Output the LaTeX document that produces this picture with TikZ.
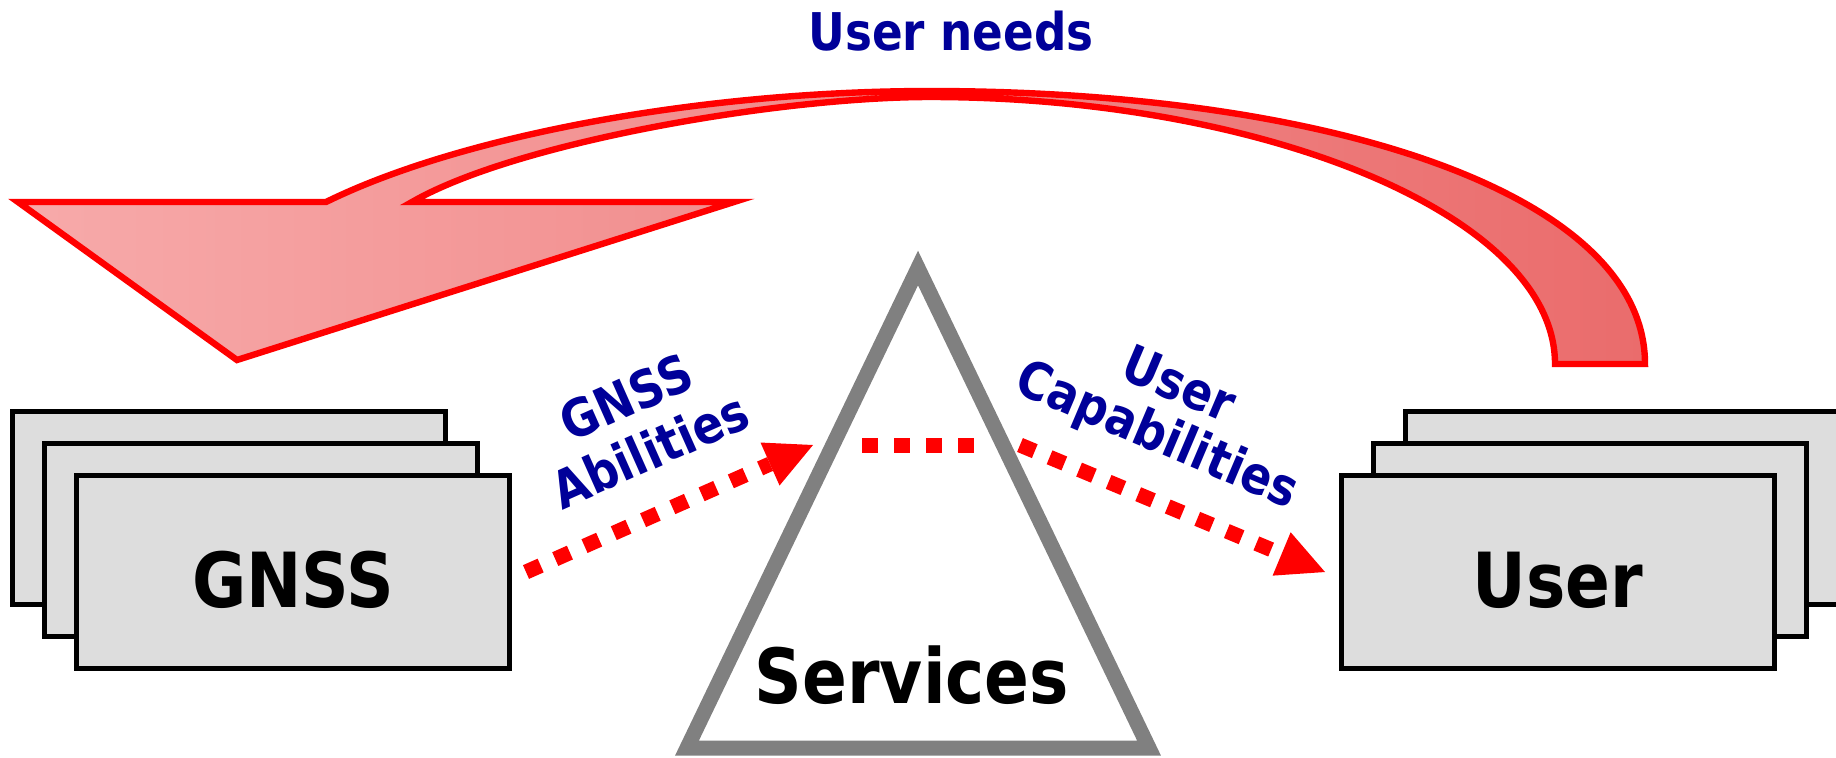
\documentclass[tikz,border=0pt]{standalone}
\usepackage{fontspec}
\newfontfamily\lblfont{DejaVu Sans}[FakeStretch=0.87]
\usetikzlibrary{arrows.meta}
\definecolor{boxgray}{RGB}{221,221,221}
\definecolor{lblblue}{RGB}{0,0,153}
\definecolor{trigray}{RGB}{128,128,128}
\definecolor{arrowlight}{RGB}{247,170,170}
\definecolor{arrowdark}{RGB}{234,108,108}

\begin{document}
\begin{tikzpicture}[x=0.5pt,y=-0.5pt,
  card/.style={draw=black, line width=2.6pt, fill=boxgray,
    minimum width=216.5pt, minimum height=96.5pt, inner sep=0pt, outer sep=0pt},
  bigtext/.style={font=\lblfont\bfseries\fontsize{38}{40}\selectfont, text=black},
  cardtext/.style={bigtext, text height=35pt, text depth=0pt},
  lbl/.style={font=\lblfont\bfseries\fontsize{26}{27}\selectfont, text=lblblue,
    align=center, inner sep=0pt},
  dots/.style={draw=red, line width=7.5pt, dash pattern=on 8pt off 8pt},
  dotarrow/.style={dots, -{Triangle[length=23.5pt,width=23.5pt,line width=0pt]}},
  bigarrow/.style={draw=red, line width=3.2pt, line join=miter,
    left color=arrowlight, right color=arrowdark}
]
\useasboundingbox (0,0) rectangle (1836,757);

% feedback arrow: user needs going back to GNSS
\path[bigarrow]
  (18,202) -- (326,202)
  .. controls (460,136) and (700,91) .. (930,91)
  .. controls (1330,91) and (1645,194) .. (1645,364)
  -- (1555,364)
  .. controls (1555,214) and (1260,97) .. (930,97)
  .. controls (780,97) and (516,142) .. (412,202)
  -- (734,202) -- (237,360) -- cycle;
\node[lbl, anchor=base] (needs) at (951,50) {User needs};

% GNSS stack
\node[card] (gnss3) at (229,508) {};
\node[card] (gnss2) at (261,540) {};
\node[card, cardtext] (gnss) at (293,572) {GNSS};

% User stack
\node[card] (user3) at (1622,508) {};
\node[card] (user2) at (1590,540) {};
\node[card, cardtext] (user) at (1558,572) {User};

% Services triangle
\coordinate (apex) at (918,268);
\coordinate (baseR) at (1149,748);
\coordinate (baseL) at (687,748);
\draw[trigray, line width=7.5pt, line join=miter] (apex) -- (baseR) -- (baseL) -- cycle;
\node[bigtext, anchor=base] (services) at (912,703) {Services};

% dotted flows
\coordinate (gA) at (526,572);
\coordinate (gB) at (813,445);
\draw[dotarrow] (gA) -- (gB);

\coordinate (sA) at (862,445);
\coordinate (sB) at (974,445);
\draw[dots] (sA) -- (sB);

\coordinate (uA) at (1020,445);
\coordinate (uB) at (1325,572);
\draw[dotarrow] (uA) -- (uB);

\node[lbl, rotate=24, font=\lblfont\bfseries\fontsize{26}{29}\selectfont]
  (abil) at (638,424) {GNSS\\Abilities};
\node[lbl, rotate=-23] (capab) at (1167,413) {User\\Capabilities};
\end{tikzpicture}
\end{document}
